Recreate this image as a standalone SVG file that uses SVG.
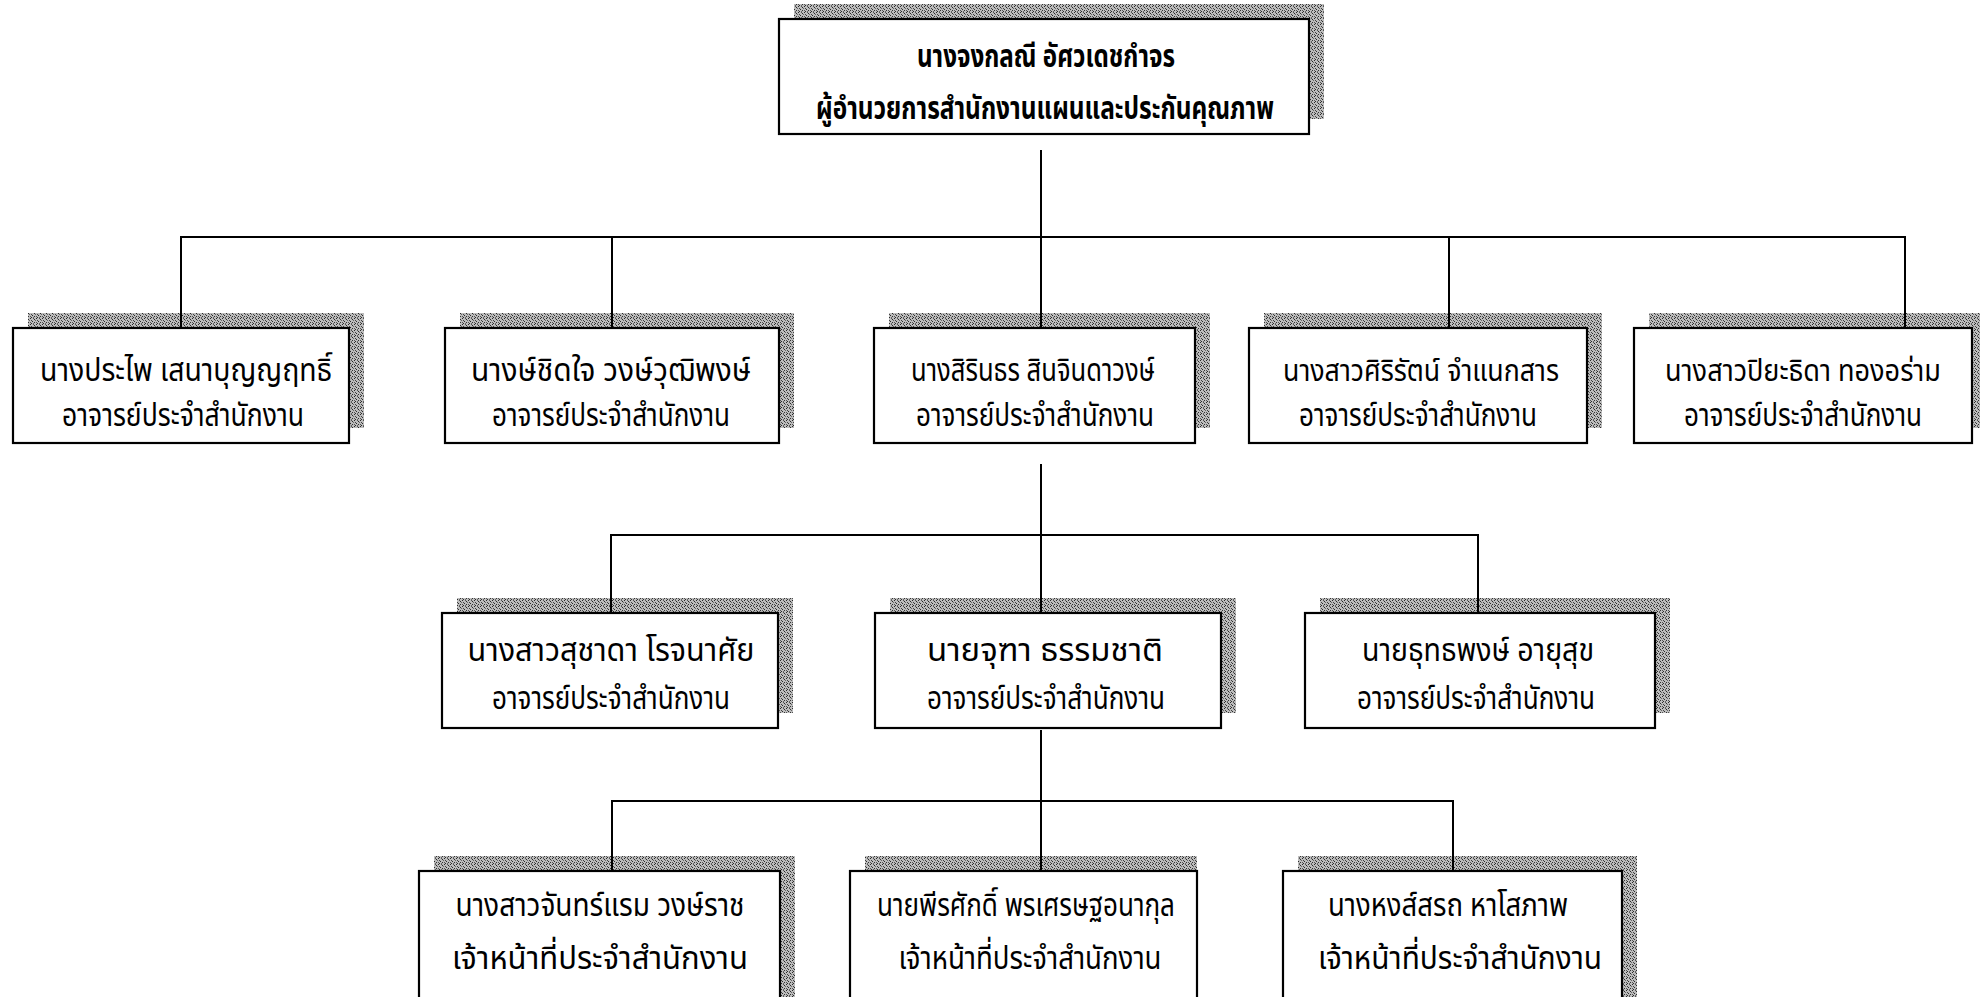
<svg xmlns="http://www.w3.org/2000/svg" width="1981" height="997" viewBox="0 0 1981 997">
<style>
.bg{fill:#ffffff}
.sh{fill:url(#dither)}
.box{fill:#ffffff;stroke:#000000;stroke-width:2.2}
.t{font-family:'Noto Sans Thai','Noto Serif Thai','Noto Sans Thai Looped','Noto Sans','DejaVu Sans',sans-serif;font-size:32px;fill:#000000;text-anchor:middle}
.tb{font-weight:bold;font-size:31px}
.ts{font-size:30px}
.ln{stroke:#000000;stroke-width:2;fill:none}
</style>
<defs>
<pattern id="dither" width="6" height="6" patternUnits="userSpaceOnUse">
<rect width="6" height="6" fill="#bdbdbd"/>
<rect x="0" y="0" width="1" height="1" fill="#2a2a2a"/>
<rect x="3" y="0" width="1" height="1" fill="#555555"/>
<rect x="4" y="1" width="1" height="1" fill="#2a2a2a"/>
<rect x="1" y="2" width="1" height="1" fill="#444444"/>
<rect x="5" y="2" width="1" height="1" fill="#666666"/>
<rect x="2" y="3" width="1" height="1" fill="#2a2a2a"/>
<rect x="0" y="4" width="1" height="1" fill="#555555"/>
<rect x="4" y="4" width="1" height="1" fill="#333333"/>
<rect x="1" y="5" width="1" height="1" fill="#2a2a2a"/>
<rect x="3" y="5" width="1" height="1" fill="#666666"/>
</pattern>
</defs>
<rect class="bg" x="0" y="0" width="1981" height="997"/>

<g id="node-top">
<rect class="sh" x="794" y="4" width="530" height="115"/>
<rect class="box" x="779" y="19" width="530" height="115"/>
<text class="t tb" x="1046" y="67" textLength="258" lengthAdjust="spacingAndGlyphs">นางจงกลณี อัศวเดชกำจร</text>
<text class="t tb" x="1045" y="119" textLength="458" lengthAdjust="spacingAndGlyphs">ผู้อำนวยการสำนักงานแผนและประกันคุณภาพ</text>
</g>

<g id="node-b1">
<rect class="sh" x="28" y="313" width="336" height="115"/>
<rect class="box" x="13" y="328" width="336" height="115"/>
<text class="t" x="186" y="381" textLength="292" lengthAdjust="spacingAndGlyphs">นางประไพ เสนาบุญญฤทธิ์</text>
<text class="t" x="183" y="426" textLength="242" lengthAdjust="spacingAndGlyphs">อาจารย์ประจำสำนักงาน</text>
</g>

<g id="node-b2">
<rect class="sh" x="460" y="313" width="334" height="115"/>
<rect class="box" x="445" y="328" width="334" height="115"/>
<text class="t" x="611" y="381" textLength="280" lengthAdjust="spacingAndGlyphs">นางษ์ชิดใจ วงษ์วุฒิพงษ์</text>
<text class="t" x="611" y="426" textLength="238" lengthAdjust="spacingAndGlyphs">อาจารย์ประจำสำนักงาน</text>
</g>

<g id="node-b3">
<rect class="sh" x="889" y="313" width="321" height="115"/>
<rect class="box" x="874" y="328" width="321" height="115"/>
<text class="t" x="1033" y="381" textLength="244" lengthAdjust="spacingAndGlyphs">นางสิรินธร สินจินดาวงษ์</text>
<text class="t" x="1035" y="426" textLength="238" lengthAdjust="spacingAndGlyphs">อาจารย์ประจำสำนักงาน</text>
</g>

<g id="node-b4">
<rect class="sh" x="1264" y="313" width="338" height="115"/>
<rect class="box" x="1249" y="328" width="338" height="115"/>
<text class="t ts" x="1421" y="381" textLength="276" lengthAdjust="spacingAndGlyphs">นางสาวศิริรัตน์ จำแนกสาร</text>
<text class="t" x="1418" y="426" textLength="238" lengthAdjust="spacingAndGlyphs">อาจารย์ประจำสำนักงาน</text>
</g>

<g id="node-b5">
<rect class="sh" x="1649" y="313" width="331" height="115"/>
<rect class="box" x="1634" y="328" width="338" height="115"/>
<text class="t ts" x="1803" y="381" textLength="276" lengthAdjust="spacingAndGlyphs">นางสาวปิยะธิดา ทองอร่าม</text>
<text class="t" x="1803" y="426" textLength="238" lengthAdjust="spacingAndGlyphs">อาจารย์ประจำสำนักงาน</text>
</g>

<g id="node-c1">
<rect class="sh" x="457" y="598" width="336" height="115"/>
<rect class="box" x="442" y="613" width="336" height="115"/>
<text class="t" x="611" y="661" textLength="287" lengthAdjust="spacingAndGlyphs">นางสาวสุชาดา โรจนาศัย</text>
<text class="t" x="611" y="709" textLength="238" lengthAdjust="spacingAndGlyphs">อาจารย์ประจำสำนักงาน</text>
</g>

<g id="node-c2">
<rect class="sh" x="890" y="598" width="346" height="115"/>
<rect class="box" x="875" y="613" width="346" height="115"/>
<text class="t" x="1045" y="661" textLength="236" lengthAdjust="spacingAndGlyphs">นายจุฑา ธรรมชาติ</text>
<text class="t" x="1046" y="709" textLength="238" lengthAdjust="spacingAndGlyphs">อาจารย์ประจำสำนักงาน</text>
</g>

<g id="node-c3">
<rect class="sh" x="1320" y="598" width="350" height="115"/>
<rect class="box" x="1305" y="613" width="350" height="115"/>
<text class="t" x="1478" y="661" textLength="232" lengthAdjust="spacingAndGlyphs">นายธุทธพงษ์ อายุสุข</text>
<text class="t" x="1476" y="709" textLength="238" lengthAdjust="spacingAndGlyphs">อาจารย์ประจำสำนักงาน</text>
</g>

<g id="node-d1">
<rect class="sh" x="434" y="856" width="361" height="160"/>
<rect class="box" x="419" y="871" width="361" height="160"/>
<text class="t" x="600" y="916" textLength="289" lengthAdjust="spacingAndGlyphs">นางสาวจันทร์แรม วงษ์ราช</text>
<text class="t" x="600" y="969" textLength="296" lengthAdjust="spacingAndGlyphs">เจ้าหน้าที่ประจำสำนักงาน</text>
</g>

<g id="node-d2">
<rect class="sh" x="865" y="856" width="332" height="160"/>
<rect class="box" x="850" y="871" width="347" height="160"/>
<text class="t" x="1026" y="916" textLength="298" lengthAdjust="spacingAndGlyphs">นายพีรศักดิ์ พรเศรษฐอนากุล</text>
<text class="t" x="1030" y="969" textLength="263" lengthAdjust="spacingAndGlyphs">เจ้าหน้าที่ประจำสำนักงาน</text>
</g>

<g id="node-d3">
<rect class="sh" x="1298" y="856" width="339" height="160"/>
<rect class="box" x="1283" y="871" width="339" height="160"/>
<text class="t" x="1448" y="916" textLength="240" lengthAdjust="spacingAndGlyphs">นางหงส์สรถ หาโสภาพ</text>
<text class="t" x="1460" y="969" textLength="284" lengthAdjust="spacingAndGlyphs">เจ้าหน้าที่ประจำสำนักงาน</text>
</g>

<g id="connectors">
<line class="ln" x1="1041" y1="150" x2="1041" y2="328"/>
<line class="ln" x1="180" y1="237" x2="1906" y2="237"/>
<line class="ln" x1="181" y1="237" x2="181" y2="328"/>
<line class="ln" x1="612" y1="237" x2="612" y2="328"/>
<line class="ln" x1="1449" y1="237" x2="1449" y2="328"/>
<line class="ln" x1="1905" y1="237" x2="1905" y2="328"/>
<line class="ln" x1="1041" y1="464" x2="1041" y2="613"/>
<line class="ln" x1="610" y1="535" x2="1479" y2="535"/>
<line class="ln" x1="611" y1="535" x2="611" y2="613"/>
<line class="ln" x1="1478" y1="535" x2="1478" y2="613"/>
<line class="ln" x1="1041" y1="730" x2="1041" y2="871"/>
<line class="ln" x1="611" y1="801" x2="1454" y2="801"/>
<line class="ln" x1="612" y1="801" x2="612" y2="871"/>
<line class="ln" x1="1453" y1="801" x2="1453" y2="871"/>
</g>
</svg>
